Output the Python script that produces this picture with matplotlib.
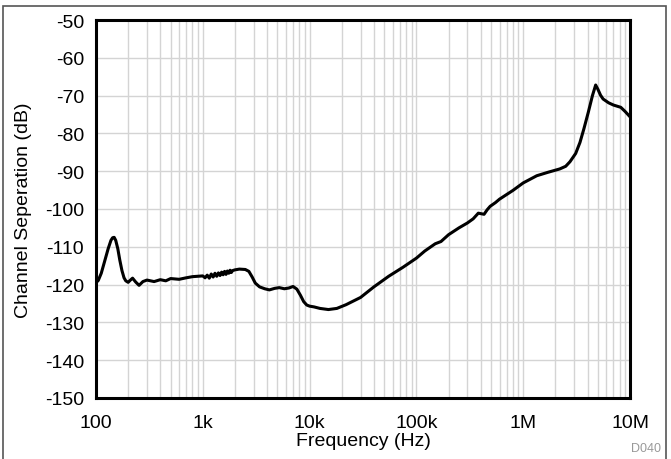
import matplotlib
matplotlib.use('Agg')
import matplotlib.pyplot as plt
from matplotlib.ticker import FixedLocator, LogLocator, NullFormatter
from matplotlib.patches import Rectangle

plt.rcParams['font.family'] = ['Liberation Sans', 'DejaVu Sans']
plt.rcParams['axes.unicode_minus'] = False

# datos
frecuencia = [100, 105, 112, 120, 130, 138, 143, 148, 153, 160, 167, 175, 183, 190, 200,
              210, 220, 235, 253, 275,
              300, 350, 400, 450, 500, 600, 700, 800, 1000,
              1050, 1100, 1150, 1200, 1250, 1300, 1350, 1400, 1450, 1500, 1550,
              1600, 1650, 1700, 1750, 1800, 1850, 1900, 2000,
              2200, 2500, 2700, 2900, 3100, 3400, 3800, 4200, 4700, 5200, 5800,
              6400, 7000, 7600, 8200, 8800, 9400, 10000, 11000, 12500, 15000,
              18000, 22000, 30000, 40000, 55000, 75000, 100000, 120000, 150000,
              170000, 200000, 250000, 300000, 340000, 380000, 430000, 460000,
              490000, 550000, 600000, 800000, 1e6, 1.34e6, 1.7e6, 2.2e6, 2.5e6,
              2.74e6, 3.1e6, 3.4e6, 3.7e6, 4.07e6, 4.45e6, 4.77e6, 5.0e6, 5.3e6, 5.6e6,
              6.3e6, 7e6, 8.2e6, 9e6, 1e7]
separacion = [-119.5, -118.9, -117.0, -114.0, -110.5, -108.3, -107.6, -107.5, -108.3,
              -110.5, -113.5, -116.3, -118.2, -119.0, -119.4,
              -118.8, -118.3, -119.3, -120.2, -119.2,
              -118.8, -119.2, -118.7, -119.0, -118.4, -118.6, -118.2, -117.9, -117.7,
              -118.2, -117.5, -118.3, -117.2, -118.0, -117.0, -117.8, -116.9, -117.6,
              -116.7, -117.4, -116.5, -117.3, -116.4, -117.0, -116.2, -116.8, -116.3,
              -116.1,
              -115.9, -116.0, -116.5, -118.0, -119.6, -120.6, -121.1, -121.4, -121.0,
              -120.8, -121.1, -120.9, -120.5, -121.2, -122.8, -124.5, -125.4, -125.7,
              -125.9, -126.3, -126.6, -126.3, -125.3, -123.4, -120.6, -117.8, -115.4,
              -113.0, -111.1, -109.2, -108.6, -106.8, -105.0, -103.7, -102.6, -101.1,
              -101.4, -100.2, -99.3, -98.3, -97.4, -95.1, -93.1, -91.2, -90.3, -89.4,
              -88.7, -87.5, -85.3, -82.4, -78.8, -74.4, -70.0, -67.2, -68.3, -69.9, -70.9,
              -71.9, -72.5, -73.1, -74.2, -75.6]

ticks_x = [100, 1e3, 1e4, 1e5, 1e6, 1e7]
etiquetas_x = ['100', '1k', '10k', '100k', '1M', '10M']
ticks_y = list(range(-150, -49, 10))

fig = plt.figure(figsize=(6.71, 4.60), dpi=100)
ax = fig.add_axes([96/671, 1 - 399/460, (630-96)/671, (399-21)/460])

ax.plot(frecuencia, separacion, color='black', linewidth=2.2,
        solid_joinstyle='round', solid_capstyle='round')

ax.set_xscale('log')
ax.set_xlim(100, 1e7)
ax.set_ylim(-150, -50)
ax.xaxis.set_major_locator(FixedLocator(ticks_x))
ax.set_xticklabels(etiquetas_x)
ax.xaxis.set_minor_locator(LogLocator(base=10, subs=range(2, 10)))
ax.xaxis.set_minor_formatter(NullFormatter())
ax.set_yticks(ticks_y)

ax.grid(True, which='major', color='#d4d4d4', linewidth=1.0)
ax.grid(True, which='minor', axis='x', color='#d4d4d4', linewidth=1.0)
ax.set_axisbelow(True)

ax.tick_params(which='both', length=0, labelsize=14)
ax.tick_params(axis='y', pad=8.5)
ax.tick_params(axis='x', pad=11.5)
for s in ax.spines.values():
    s.set_linewidth(2.2)
    s.set_color('black')

ax.set_xlabel('Frequency (Hz)', fontsize=14, labelpad=1)
ax.set_ylabel('Channel Seperation (dB)', fontsize=14, labelpad=9.5)

fig.text(661/671, 1 - 452/460, 'D040', fontsize=9, color='#999999', ha='right', va='baseline')

# marco exterior
fig.patches.append(Rectangle((3/671, -0.01), (666-3)/671, (458)/460, transform=fig.transFigure,
                             fill=False, edgecolor='#555555', linewidth=1.2))

fig.savefig('out.png', dpi=100)
